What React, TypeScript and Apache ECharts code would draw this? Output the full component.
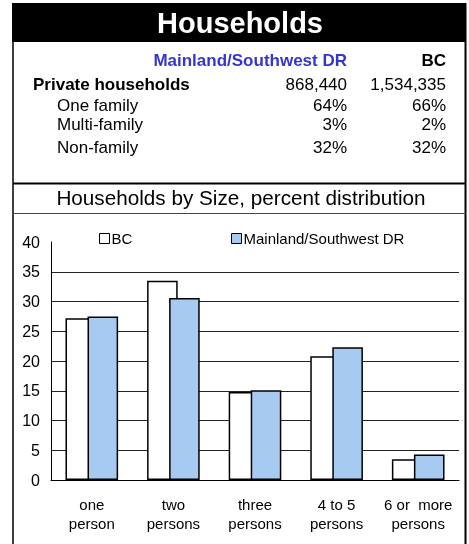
import React, { useEffect, useRef } from "react";
import * as echarts from "echarts";

const categories = ["one\nperson", "two\npersons", "three\npersons", "4 to 5\npersons", "6 or  more\npersons"];
const bcValues = [27.2, 33.5, 14.8, 20.8, 3.5];
const mainlandValues = [27.5, 30.6, 15.1, 22.3, 4.3];
const yTicks = { min: 0, max: 40, interval: 5 };

const tableHeader = ["Mainland/Southwest DR", "BC"];
const tableRows = [
  { label: "Private households", region: "868,440", bc: "1,534,335", bold: true },
  { label: "One family", region: "64%", bc: "66%", bold: false },
  { label: "Multi-family", region: "3%", bc: "2%", bold: false },
  { label: "Non-family", region: "32%", bc: "32%", bold: false },
];
const rowY = [84, 105, 124, 147];

const FONT = "'Liberation Sans', Arial, sans-serif";

export default function App() {
  const ref = useRef<HTMLDivElement>(null);
  useEffect(() => {
    document.body.style.margin = "0";
    const chart = echarts.init(ref.current!, null, { renderer: "svg" });
    const txt = (text: string, x: number, y: number, size: number, opts: any = {}) => ({
      type: "text",
      z: 100,
      style: {
        text,
        x,
        y,
        fill: opts.fill || "#000",
        font: `${opts.bold ? "bold " : ""}${size}px ${FONT}`,
        align: opts.align || "left",
        textAlign: opts.align || "left",
        verticalAlign: "middle",
        textVerticalAlign: "middle",
      },
    });
    const graphics: any[] = [
      { type: "rect", z: 90, shape: { x: 12, y: 3, width: 454, height: 39 }, style: { fill: "#000" } },
      txt("Households", 240, 23, 29, { bold: true, fill: "#fff", align: "center" }),
      txt(tableHeader[0], 347, 60, 17, { bold: true, fill: "#3535d0", align: "right" }),
      txt(tableHeader[1], 446, 60, 17, { bold: true, align: "right" }),
      txt("Households by Size, percent distribution", 241, 197, 20.7, { align: "center" }),
      { type: "line", z: 95, shape: { x1: 13, y1: 3, x2: 13, y2: 544 }, style: { stroke: "#000", lineWidth: 1.5 } },
      { type: "line", z: 95, shape: { x1: 465.5, y1: 3, x2: 465.5, y2: 544 }, style: { stroke: "#000", lineWidth: 2 } },
      { type: "line", z: 95, shape: { x1: 13, y1: 183.5, x2: 466, y2: 183.5 }, style: { stroke: "#000", lineWidth: 2 } },
      { type: "line", z: 95, shape: { x1: 13, y1: 213.5, x2: 466, y2: 213.5 }, style: { stroke: "#444", lineWidth: 1 } },
    ];
    tableRows.forEach((r, i) => {
      const y = rowY[i];
      graphics.push(txt(r.label, r.bold ? 33 : 57, y, 17, { bold: r.bold }));
      graphics.push(txt(r.region, 347, y, 17, { align: "right" }));
      graphics.push(txt(r.bc, 446, y, 17, { align: "right" }));
    });

    const legendBase = {
      top: 231,
      padding: 0,
      itemWidth: 10,
      itemHeight: 10,
      icon: "rect",
      itemStyle: { borderColor: "#000", borderWidth: 1 },
      textStyle: { fontSize: 15, color: "#000", fontFamily: FONT, padding: [0, 0, 0, -3] },
    };

    chart.setOption({
      animation: false,
      textStyle: { fontFamily: FONT },
      grid: { left: 51, right: 10, top: 242, bottom: 64, containLabel: false },
      legend: [
        { ...legendBase, data: ["BC"], left: 99 },
        { ...legendBase, data: ["Mainland/Southwest DR"], left: 231 },
      ],
      xAxis: {
        type: "category",
        data: categories,
        axisLine: { lineStyle: { color: "#000", width: 1 } },
        axisTick: { show: false },
        axisLabel: { color: "#000", fontSize: 15, lineHeight: 19, margin: 15, fontFamily: FONT, interval: 0 },
      },
      yAxis: {
        type: "value",
        min: yTicks.min,
        max: yTicks.max,
        interval: yTicks.interval,
        axisLine: { show: true, lineStyle: { color: "#000", width: 1 } },
        axisTick: { show: false },
        axisLabel: { color: "#000", fontSize: 16, margin: 11, fontFamily: FONT },
        splitLine: { show: true, showMaxLine: false, lineStyle: { color: "#222", width: 1 } },
      },
      series: [
        {
          name: "BC",
          type: "bar",
          data: bcValues,
          barWidth: "37.5%",
          barGap: "-28%",
          itemStyle: { color: "#ffffff", borderColor: "#000", borderWidth: 1.5 },
        },
        {
          name: "Mainland/Southwest DR",
          type: "bar",
          data: mainlandValues,
          barWidth: "37.5%",
          barGap: "-28%",
          itemStyle: { color: "#a6caf0", borderColor: "#000", borderWidth: 1.5 },
        },
      ],
      graphic: graphics,
    });
    return () => chart.dispose();
  }, []);
  return <div ref={ref} style={{ position: "fixed", left: 0, top: 0, width: 469, height: 544 }} />;
}
